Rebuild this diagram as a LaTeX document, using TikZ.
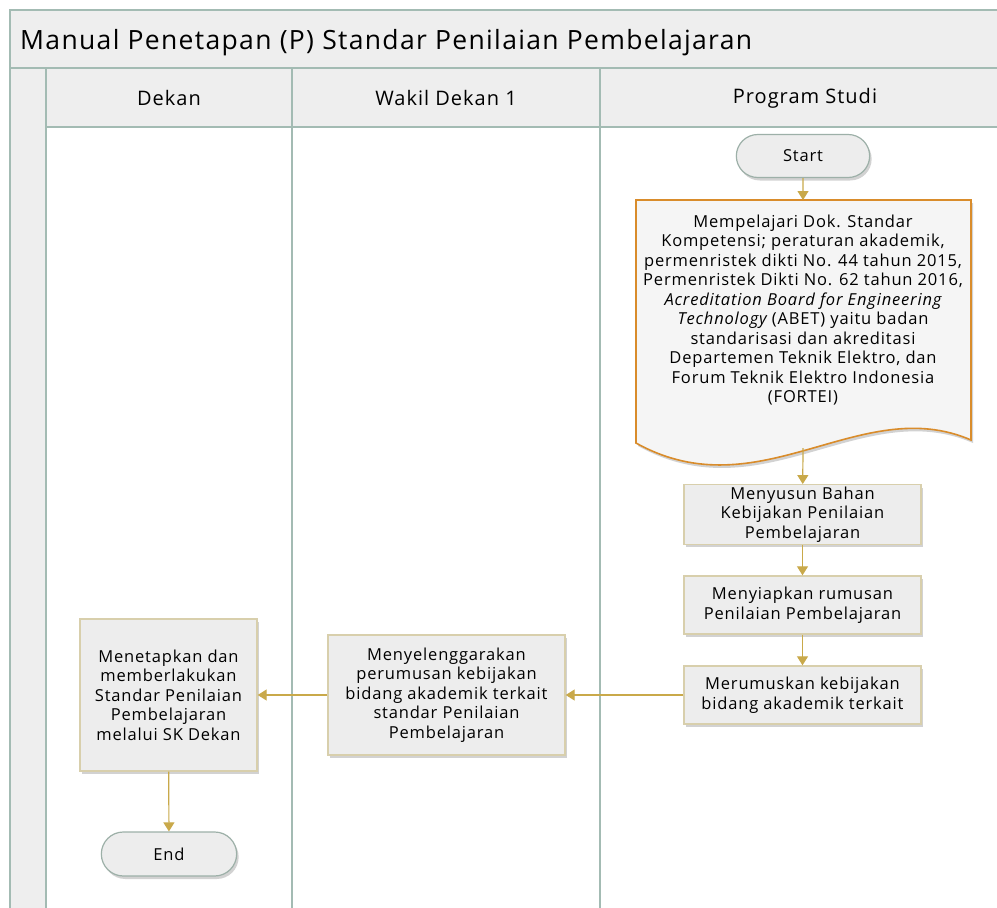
\documentclass[tikz,border=0pt]{standalone}
\usepackage{fontspec}
\setmainfont[LetterSpace=5]{Open Sans}
\usetikzlibrary{shadows,arrows.meta,shapes.misc}
\definecolor{laneline}{HTML}{A3BBB3}
\definecolor{hdrfill}{HTML}{EEEEEE}
\definecolor{boxfill}{HTML}{EDEDED}
\definecolor{boxline}{HTML}{D8CFAC}
\definecolor{docline}{HTML}{D98C2B}
\definecolor{arrcol}{HTML}{C9A94A}
\definecolor{termline}{HTML}{9DB0A8}
\tikzset{
  lanestroke/.style={draw=laneline, line width=1.3pt},
  shadowed/.style={drop shadow={shadow xshift=2pt, shadow yshift=-3pt, fill=black!35, opacity=0.5}},
  procbox/.style={rectangle, fill=boxfill, draw=boxline, line width=1.4pt, shadowed, align=center, inner sep=2pt, font=\fontsize{16.5}{19.5}\selectfont},
  termbox/.style={rounded rectangle, fill=boxfill, draw=termline, line width=1.2pt, shadowed, minimum width=140pt, minimum height=43pt, font=\fontsize{16.5}{19.5}\selectfont},
  hdrtext/.style={font=\fontsize{20}{24}\selectfont},
  flowarrow/.style={draw=arrcol, line width=1.2pt, -{Triangle[length=9pt,width=11pt]}},
}
\begin{document}
\begin{tikzpicture}[x=1pt,y=-1pt]
\useasboundingbox (0,0) rectangle (997,908);
\fill[white] (0,0) rectangle (997,908);
% bands
\fill[hdrfill] (10,10) rectangle (1012,127);
\fill[hdrfill] (10,127) rectangle (46,920);
\draw[lanestroke] (1012,10) -- (10,10) -- (10,920);
\draw[lanestroke] (10,68) -- (1012,68);
\draw[lanestroke] (46,127) -- (1012,127);
\draw[lanestroke] (46,68) -- (46,920);
\draw[lanestroke] (292,68) -- (292,920);
\draw[lanestroke] (600,68) -- (600,920);
% texts
\node[anchor=west, font=\fontsize{26.5}{32}\selectfont, inner sep=0pt] (title) at (20,43) {Manual Penetapan (P) Standar Penilaian Pembelajaran};
\node[hdrtext] (hdekan) at (169,98) {Dekan};
\node[hdrtext] (hwakil) at (446,98) {Wakil Dekan 1};
\node[hdrtext] (hprodi) at (805,98) {Program Studi};
% start
\node[termbox] (start) at (803,156) {Start};
% document
\path[fill=hdrfill!60!white, draw=docline, line width=1.6pt, shadowed]
  (636,200) -- (971,200) -- (971,440) .. controls (860,392) and (760,512) .. (636,443) -- cycle;
\coordinate (docTop) at (803,200);
\coordinate (docBot) at (803,448);
\node[align=center, font=\fontsize{16.5}{19.5}\selectfont, inner sep=0pt] (doc) at (803,310) {Mempelajari Dok. Standar\\
Kompetensi; peraturan akademik,\\
permenristek dikti No. 44 tahun 2015,\\
Permenristek Dikti No. 62 tahun 2016,\\
{\itshape Acreditation Board for Engineering}\\
{\itshape Technology} (ABET) yaitu badan\\
standarisasi dan akreditasi\\
Departemen Teknik Elektro, dan\\
Forum Teknik Elektro Indonesia\\
(FORTEI)};
% process boxes
\node[procbox, minimum width=237pt, minimum height=57pt] (box1) at (802.5,514.5) {Menyusun Bahan\\Kebijakan Penilaian\\Pembelajaran};
\node[procbox, minimum width=237pt, minimum height=58pt] (box2) at (802.5,605) {Menyiapkan rumusan\\Penilaian Pembelajaran};
\node[procbox, minimum width=237pt, minimum height=58pt] (box3) at (802.5,695) {Merumuskan kebijakan\\bidang akademik terkait};
\node[procbox, minimum width=237pt, minimum height=120pt] (wakil) at (446.5,695) {Menyelenggarakan\\perumusan kebijakan\\bidang akademik terkait\\standar Penilaian\\Pembelajaran};
\node[procbox, minimum width=177pt, minimum height=152pt] (dekan) at (168.5,695) {Menetapkan dan\\memberlakukan\\Standar Penilaian\\Pembelajaran\\melalui SK Dekan};
\node[termbox, minimum width=142pt, minimum height=44pt] (end) at (169,854) {End};
% arrows
\draw[flowarrow] (start) -- (docTop);
\draw[flowarrow] (docBot) -- (box1);
\draw[flowarrow] (box1) -- (box2);
\draw[flowarrow] (box2) -- (box3);
\draw[flowarrow] (box3) -- (wakil);
\draw[flowarrow] (wakil) -- (dekan);
\draw[flowarrow] (dekan) -- (end);
\end{tikzpicture}
\end{document}
